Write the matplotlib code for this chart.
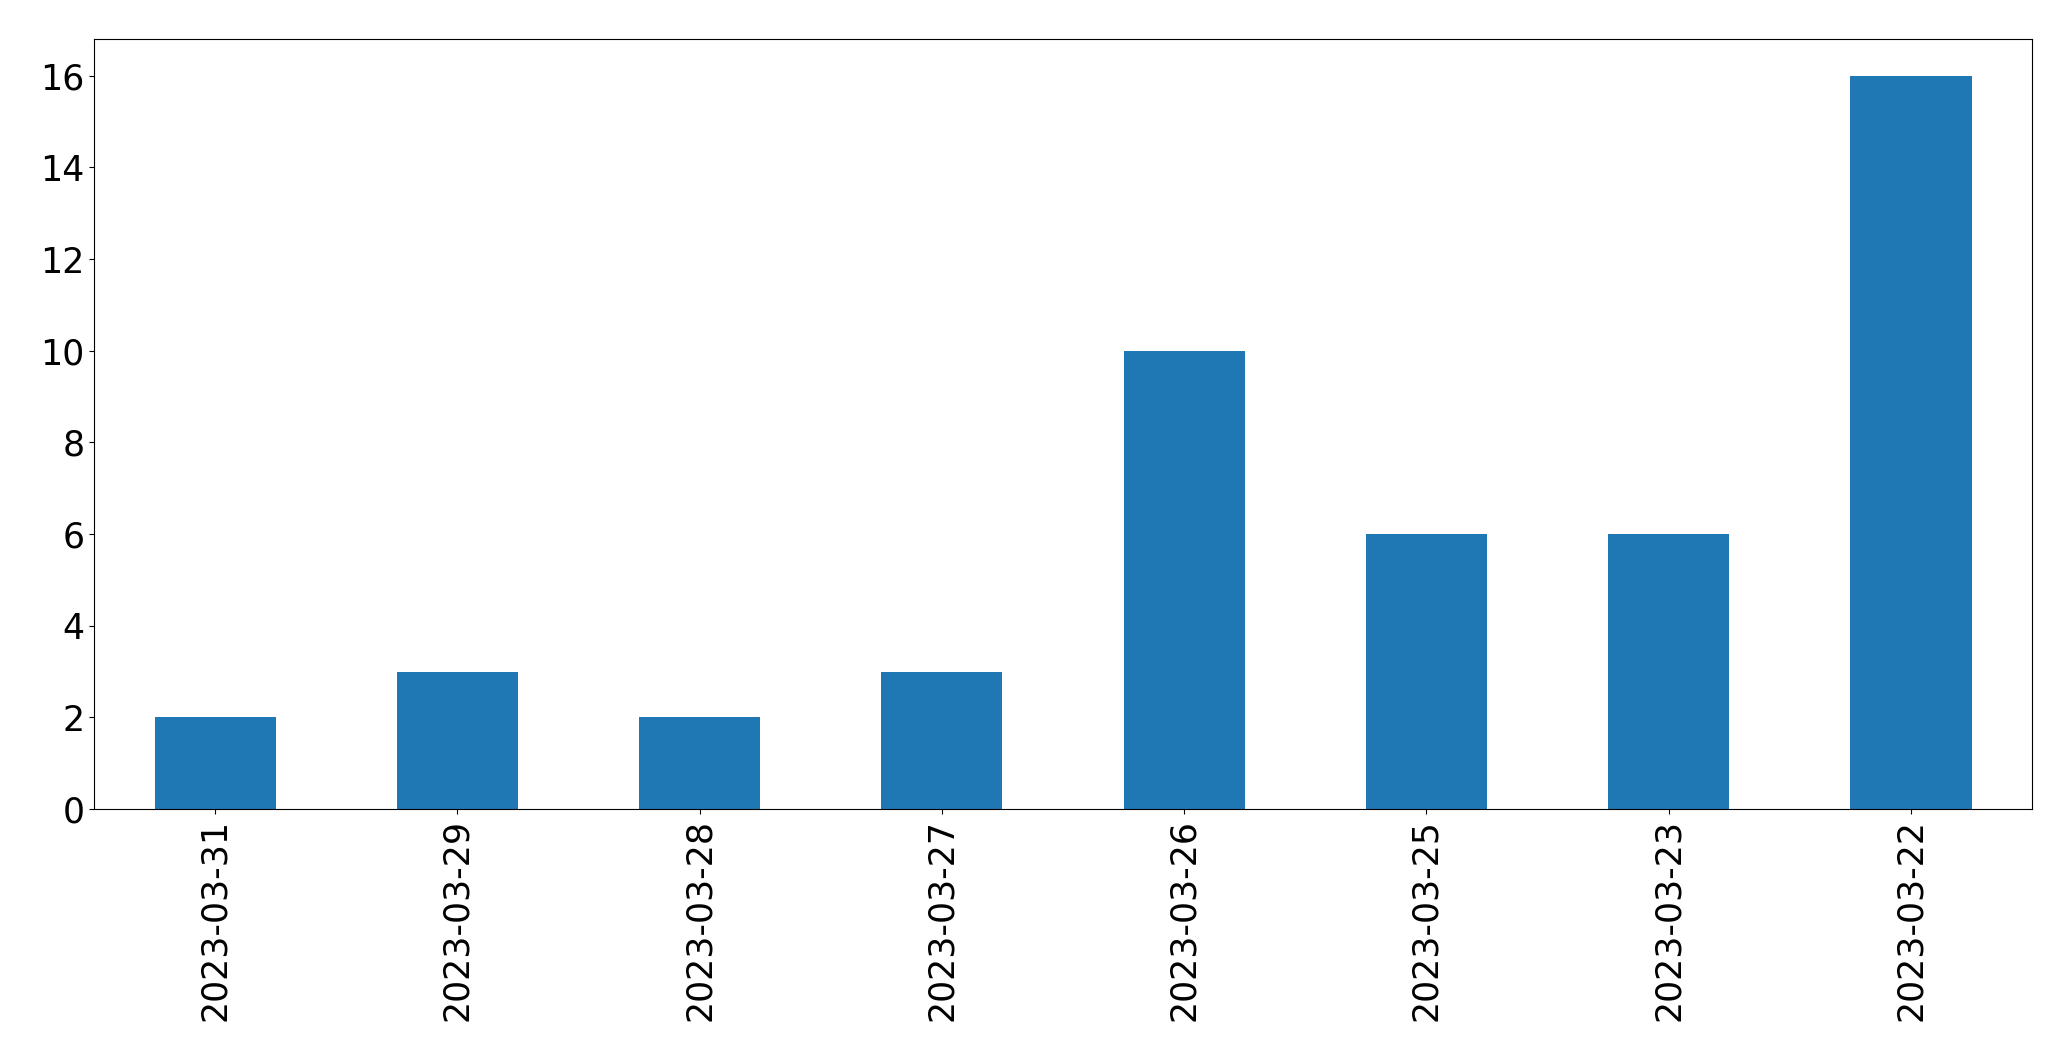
import matplotlib
matplotlib.use("Agg")
import matplotlib.pyplot as plt

dates = ["2023-03-31", "2023-03-29", "2023-03-28", "2023-03-27",
         "2023-03-26", "2023-03-25", "2023-03-23", "2023-03-22"]
counts = [2, 3, 2, 3, 10, 6, 6, 16]

fig, ax = plt.subplots(figsize=(20.71, 10.61), dpi=100)
fig.subplots_adjust(left=0.0454, right=0.9812, top=0.9632, bottom=0.2375)

x = range(len(dates))
ax.bar(x, counts, width=0.5, color="#1f77b4")
ax.set_xlim(-0.5, len(dates) - 0.5)
ax.set_ylim(0, max(counts) * 1.05)
ax.set_xticks(list(x))
ax.set_xticklabels(dates, rotation=90)
ax.set_yticks(range(0, 17, 2))
ax.tick_params(labelsize=25)

fig.savefig("out.png", dpi=100)
